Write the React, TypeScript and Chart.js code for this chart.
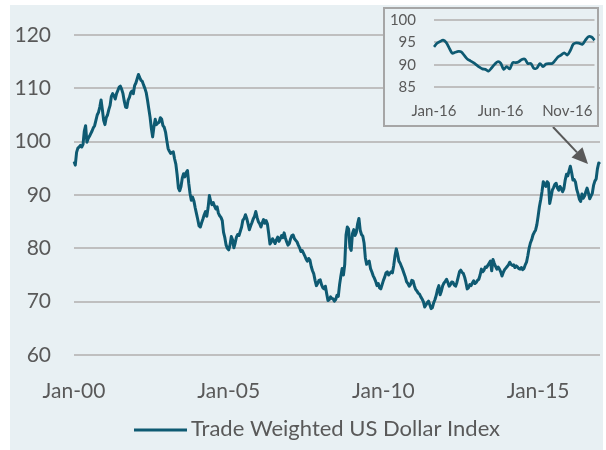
import React, { useEffect, useRef } from 'react';
import { Chart, registerables } from 'chart.js';

Chart.register(...registerables);

const BG = '#E8F0F3';
const LINE = '#0E5A72';
const TEXT = '#595959';
const GRID = '#BFBFBF';
const NONE = 'rgba(0,0,0,0)';
const FONT = "Lato, 'Open Sans', sans-serif";

// Half-monthly readings of the Trade Weighted US Dollar Index
const v2000 = [96.3, 95.6, 98.0, 98.8, 99.0, 99.3, 99.0, 99.5, 102.0, 103.0, 99.9, 100.6, 101.0, 101.5, 102.0, 102.6, 103.0, 104.0, 105.0, 105.5, 106.5, 107.8, 106.0, 104.0];
const v2001 = [103.2, 104.5, 105.0, 106.0, 106.8, 108.5, 109.0, 108.6, 108.0, 109.0, 109.6, 110.2, 110.4, 109.8, 109.0, 107.6, 106.5, 106.4, 107.8, 108.3, 109.2, 109.5, 109.0, 110.5];
const v2002 = [111.0, 111.8, 112.6, 112.0, 111.5, 111.3, 110.6, 110.0, 109.2, 107.8, 106.2, 104.6, 102.5, 100.9, 102.8, 104.2, 103.2, 103.5, 103.6, 104.5, 104.2, 103.0, 102.7, 101.8];
const v2003 = [100.2, 98.7, 98.2, 97.8, 98.0, 98.1, 96.8, 95.8, 93.8, 91.3, 90.8, 91.6, 93.2, 94.0, 93.4, 94.2, 94.6, 92.2, 90.3, 89.0, 89.6, 88.9, 87.6, 86.5];
const v2004 = [85.4, 84.2, 84.0, 84.8, 85.5, 86.3, 86.9, 86.0, 87.6, 89.9, 88.8, 88.2, 88.6, 87.9, 87.4, 87.8, 86.6, 86.1, 85.8, 85.2, 83.0, 82.0, 80.6, 80.0];
const v2005 = [79.7, 80.6, 82.2, 81.6, 80.1, 81.0, 82.1, 82.6, 82.4, 83.2, 84.0, 85.3, 85.6, 86.3, 85.6, 84.6, 83.5, 84.2, 84.8, 85.5, 86.0, 86.9, 85.8, 85.0];
const v2006 = [84.6, 84.0, 84.8, 85.4, 84.7, 85.2, 84.6, 82.8, 80.8, 81.2, 81.8, 81.4, 80.9, 81.6, 82.1, 81.3, 81.8, 82.4, 82.0, 82.9, 81.9, 81.2, 80.6, 80.9];
const v2007 = [81.8, 82.4, 82.5, 81.8, 81.5, 81.2, 80.6, 80.1, 79.4, 79.6, 79.1, 78.6, 78.0, 77.6, 78.1, 77.8, 76.6, 75.8, 75.2, 74.0, 73.0, 73.4, 74.0, 74.1];
const v2008 = [73.2, 72.6, 72.4, 72.9, 71.5, 70.2, 70.4, 70.9, 70.6, 70.5, 70.1, 70.4, 71.2, 71.0, 73.2, 74.8, 76.2, 75.0, 77.0, 82.5, 84.0, 83.6, 80.2, 79.6];
const v2009 = [82.8, 83.5, 82.4, 83.0, 84.6, 85.6, 83.4, 82.6, 82.3, 81.0, 78.2, 77.0, 77.4, 77.6, 76.2, 75.6, 74.9, 74.4, 73.8, 73.0, 73.4, 72.6, 72.4, 73.2];
const v2010 = [74.0, 74.6, 75.4, 75.6, 75.0, 75.3, 75.6, 75.4, 76.8, 78.6, 79.9, 78.9, 77.6, 77.2, 76.6, 76.0, 75.3, 74.6, 73.7, 73.4, 72.9, 73.2, 74.0, 73.9];
const v2011 = [73.0, 72.3, 72.0, 71.6, 71.4, 70.9, 70.5, 70.0, 69.0, 69.4, 69.8, 70.1, 69.4, 68.7, 68.9, 69.8, 70.4, 71.2, 72.3, 73.0, 71.3, 72.0, 73.0, 73.5];
const v2012 = [73.8, 74.2, 73.6, 72.9, 73.2, 73.7, 73.6, 73.1, 72.9, 73.6, 74.6, 75.6, 75.9, 75.5, 75.3, 74.6, 73.6, 72.4, 72.6, 73.2, 73.0, 73.5, 73.9, 73.4];
const v2013 = [73.6, 74.0, 74.2, 75.0, 76.1, 75.6, 75.9, 76.5, 76.4, 76.8, 77.2, 77.6, 75.8, 77.9, 77.2, 76.6, 76.1, 76.5, 76.1, 75.6, 74.8, 75.5, 76.0, 76.3];
const v2014 = [76.6, 76.9, 77.4, 77.0, 76.8, 76.9, 76.4, 76.7, 76.5, 76.2, 76.1, 76.4, 76.0, 76.2, 76.9, 77.4, 78.6, 80.0, 81.0, 81.6, 82.5, 83.0, 83.4, 84.4];
const v2015 = [86.0, 87.8, 89.1, 90.6, 92.5, 92.0, 91.6, 92.5, 92.2, 88.4, 89.6, 90.9, 91.4, 92.0, 92.2, 91.3, 90.9, 91.6, 91.2, 90.6, 91.2, 92.8, 93.9, 93.6];
const v2016 = [94.5, 95.4, 94.2, 92.8, 92.9, 92.4, 91.0, 90.2, 89.2, 88.8, 90.2, 89.4, 89.8, 90.6, 91.3, 90.4, 89.3, 89.8, 90.3, 91.8, 92.6, 93.0, 94.9, 96.0];
const v2017 = [95.8];

const mainValues = [
  ...v2000, ...v2001, ...v2002, ...v2003, ...v2004, ...v2005, ...v2006, ...v2007, ...v2008,
  ...v2009, ...v2010, ...v2011, ...v2012, ...v2013, ...v2014, ...v2015, ...v2016, ...v2017,
];

const MONTHS = ['Jan', 'Feb', 'Mar', 'Apr', 'May', 'Jun', 'Jul', 'Aug', 'Sep', 'Oct', 'Nov', 'Dec'];
const mainLabels = mainValues.map((_, i) => {
  const m = Math.floor(i / 2);
  return `${MONTHS[m % 12]}-${String(Math.floor(m / 12)).padStart(2, '0')}`;
});
const mainTickIndex = [0, 120, 240, 360]; // Jan-00, Jan-05, Jan-10, Jan-15
const mainYTicks = [60, 70, 80, 90, 100, 110, 120];

// Weekly readings for the 2016 inset
const insetValues = [94.0, 94.8, 95.2, 95.5, 95.0, 93.8, 92.6, 92.8, 93.0, 92.9, 92.1, 91.3, 90.9, 90.5, 90.0, 89.5, 89.1, 89.0, 88.6, 89.3, 90.1, 90.7, 90.4, 89.0, 89.6, 89.1, 90.5, 90.5, 90.7, 91.2, 91.3, 90.3, 90.3, 89.2, 89.3, 90.3, 89.6, 90.2, 90.3, 90.3, 91.0, 91.8, 92.2, 92.7, 92.2, 93.2, 94.6, 94.9, 94.8, 94.6, 95.5, 96.3, 96.2, 95.5];
const insetLabels = insetValues.map((_, i) => {
  const d = new Date(Date.UTC(2016, 0, 1 + 7 * i));
  return `${MONTHS[d.getUTCMonth()]}-${String(d.getUTCFullYear() % 100).padStart(2, '0')}`;
});
const insetTickIndex = [0, 22, 44]; // Jan-16, Jun-16, Nov-16
const insetYTicks = [85, 90, 95, 100];

const SERIES_NAME = 'Trade Weighted US Dollar Index';

const overlayPlugin = {
  id: 'overlay',
  afterDraw(chart: any) {
    const ctx = chart.ctx;
    ctx.save();
    // legend
    ctx.strokeStyle = LINE;
    ctx.lineWidth = 3;
    ctx.beginPath();
    ctx.moveTo(134, 430);
    ctx.lineTo(187, 430);
    ctx.stroke();
    ctx.fillStyle = TEXT;
    ctx.font = `22px ${FONT}`;
    ctx.textAlign = 'left';
    ctx.textBaseline = 'middle';
    ctx.fillText(SERIES_NAME, 191, 429);
    // arrow from inset to end of series
    const x0 = 553, y0 = 127, x1 = 588, y1 = 164;
    const ang = Math.atan2(y1 - y0, x1 - x0);
    const hl = 16, hw = 7.5;
    const bx = x1 - hl * Math.cos(ang), by = y1 - hl * Math.sin(ang);
    ctx.strokeStyle = '#595959';
    ctx.fillStyle = '#595959';
    ctx.lineWidth = 2;
    ctx.beginPath();
    ctx.moveTo(x0, y0);
    ctx.lineTo(bx, by);
    ctx.stroke();
    ctx.beginPath();
    ctx.moveTo(x1, y1);
    ctx.lineTo(bx + hw * Math.sin(ang), by - hw * Math.cos(ang));
    ctx.lineTo(bx - hw * Math.sin(ang), by + hw * Math.cos(ang));
    ctx.closePath();
    ctx.fill();
    ctx.restore();
  },
};

export default function App() {
  const mainRef = useRef<HTMLCanvasElement>(null);
  const insetRef = useRef<HTMLCanvasElement>(null);

  useEffect(() => {
    Chart.defaults.font.family = FONT;
    Chart.defaults.color = TEXT;

    const main = new Chart(mainRef.current!, {
      type: 'line',
      data: {
        labels: mainLabels,
        datasets: [
          {
            label: SERIES_NAME,
            data: mainValues,
            borderColor: LINE,
            borderWidth: 3,
            pointRadius: 0,
            tension: 0,
            borderJoinStyle: 'round',
            fill: false,
          },
        ],
      },
      options: {
        animation: false,
        responsive: false,
        maintainAspectRatio: false,
        layout: { padding: { top: 35, right: 6, bottom: 0, left: 0 } },
        plugins: { legend: { display: false }, tooltip: { enabled: false } },
        scales: {
          x: {
            type: 'category',
            offset: false,
            grid: { display: true, drawOnChartArea: false, drawTicks: true, tickLength: 24, color: NONE, tickColor: NONE },
            border: { display: false },
            ticks: { autoSkip: false, maxRotation: 0, padding: 0, color: TEXT, font: { size: 21, family: FONT } },
            afterBuildTicks: (s: any) => {
              s.ticks = mainTickIndex.map((v) => ({ value: v }));
            },
            afterFit: (s: any) => {
              s.height = 95;
            },
          },
          y: {
            min: 60,
            max: 120,
            grid: { color: GRID, lineWidth: 2, drawTicks: true, tickLength: 23, tickColor: NONE },
            border: { display: false },
            ticks: { autoSkip: false, padding: 0, color: TEXT, font: { size: 21, family: FONT } },
            afterBuildTicks: (s: any) => {
              s.ticks = mainYTicks.map((v) => ({ value: v }));
            },
            afterFit: (s: any) => {
              s.width = 74;
            },
          },
        },
      },
      plugins: [overlayPlugin],
    });

    const inset = new Chart(insetRef.current!, {
      type: 'line',
      data: {
        labels: insetLabels,
        datasets: [
          {
            label: SERIES_NAME,
            data: insetValues,
            borderColor: LINE,
            borderWidth: 2.75,
            pointRadius: 0,
            tension: 0.3,
            borderJoinStyle: 'round',
            fill: false,
          },
        ],
      },
      options: {
        animation: false,
        responsive: false,
        maintainAspectRatio: false,
        layout: { padding: { top: 11, right: 2.5, bottom: 0, left: 0 } },
        plugins: { legend: { display: false }, tooltip: { enabled: false } },
        scales: {
          x: {
            type: 'category',
            offset: false,
            grid: { display: true, drawOnChartArea: false, drawTicks: true, tickLength: 15, color: NONE, tickColor: NONE },
            border: { display: false },
            ticks: { autoSkip: false, maxRotation: 0, padding: 0, color: TEXT, font: { size: 15, family: FONT } },
            afterBuildTicks: (s: any) => {
              s.ticks = insetTickIndex.map((v) => ({ value: v }));
            },
            afterFit: (s: any) => {
              s.height = 37.7;
            },
          },
          y: {
            min: 85,
            max: 100,
            grid: { color: GRID, lineWidth: 2, drawTicks: true, tickLength: 18, tickColor: NONE },
            border: { display: false },
            ticks: { autoSkip: false, padding: 0, color: TEXT, font: { size: 15, family: FONT } },
            afterBuildTicks: (s: any) => {
              s.ticks = insetYTicks.map((v) => ({ value: v }));
            },
            afterFit: (s: any) => {
              s.width = 49;
            },
          },
        },
      },
    });

    return () => {
      main.destroy();
      inset.destroy();
    };
  }, []);

  return (
    <div style={{ position: 'fixed', left: 0, top: 0, width: 606, height: 450, background: '#ffffff', overflow: 'hidden' }}>
      <div style={{ position: 'absolute', left: 10, top: 5, width: 593, height: 445, background: BG }} />
      <canvas ref={mainRef} width={606} height={450} style={{ position: 'absolute', left: 0, top: 0 }} />
      <div
        style={{
          position: 'absolute',
          left: 383,
          top: 7,
          width: 212,
          height: 116,
          border: '2px solid #A6A6A6',
          background: BG,
        }}
      >
        <canvas ref={insetRef} width={212} height={116} style={{ display: 'block' }} />
      </div>
    </div>
  );
}
